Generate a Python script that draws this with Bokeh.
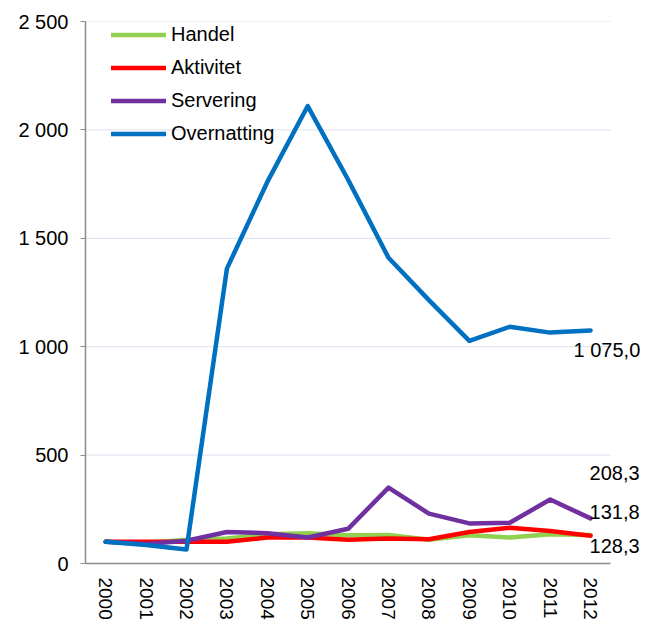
from bokeh.plotting import figure
from bokeh.models import (ColumnDataSource, Range1d, Legend, LegendItem,
                          LabelSet, FixedTicker)
from bokeh.core.properties import value
from bokeh.embed import file_html
from bokeh.resources import INLINE
import math

years = list(range(2000, 2013))
year_labels = [str(y) for y in years]
handel = [100, 95, 110, 115, 135, 140, 130, 132, 110, 130, 120, 135, 131.8]
aktivitet = [100, 100, 100, 100, 120, 120, 110, 115, 112, 145, 165, 150, 128.3]
servering = [100, 90, 105, 145, 140, 120, 160, 350, 230, 185, 188, 295, 208.3]
overnatting = [100, 85, 65, 1360, 1760, 2110, 1770, 1410, 1215, 1027, 1092, 1065, 1075.0]

series_names = ["Handel", "Aktivitet", "Servering", "Overnatting"]
series_values = [handel, aktivitet, servering, overnatting]
colors = ["#92D050", "#FF0000", "#7030A0", "#0070C0"]
y_ticks = [0, 500, 1000, 1500, 2000, 2500]
label_offsets = [23, -10, 45, -20]
label_x_offsets = [-1, -1, -1, -17]

FONT = "Liberation Sans"
FS = "20px"


def fmt_num(v, dec=0):
    s = f"{v:,.{dec}f}"
    return s.replace(",", " ").replace(".", ",")


x_start = years[0] - 0.5
x_end = years[-1] + 0.5

p = figure(width=645, height=622, x_range=Range1d(x_start, x_end + 0.86),
           y_range=Range1d(0, 2500), output_backend="svg", toolbar_location=None,
           min_border_left=85, min_border_right=0, min_border_top=21, min_border_bottom=40)
p.outline_line_color = None
p.background_fill_color = "white"

p.xgrid.grid_line_color = None
p.ygrid.grid_line_color = None

# horizontal grid lines limited to the category area
p.segment(x0=[x_start] * len(y_ticks), x1=[x_end] * len(y_ticks), y0=y_ticks, y1=y_ticks,
          line_color="#D9E2F0", line_width=1)

p.yaxis.ticker = FixedTicker(ticks=y_ticks)
p.yaxis.major_label_overrides = {t: fmt_num(t) for t in y_ticks}
p.yaxis.minor_tick_line_color = None
p.yaxis.major_tick_in = 0
p.yaxis.major_tick_out = 5
p.yaxis.axis_line_color = "#8C8C8C"
p.yaxis.major_tick_line_color = "#8C8C8C"
p.yaxis.axis_line_width = 1.5
p.yaxis.major_label_text_font = FONT
p.yaxis.major_label_text_font_size = FS
p.yaxis.major_label_text_color = "black"
p.yaxis.major_label_standoff = 12

p.xaxis.ticker = FixedTicker(ticks=years)
p.xaxis.major_label_overrides = {y: s for y, s in zip(years, year_labels)}
p.xaxis.bounds = (x_start, x_end)
p.xaxis.major_tick_line_color = None
p.xaxis.minor_tick_line_color = None
p.xaxis.axis_line_color = "#8C8C8C"
p.xaxis.axis_line_width = 1.5
p.xaxis.major_label_orientation = -math.pi / 2
p.xaxis.major_label_text_font = FONT
p.xaxis.major_label_text_font_size = "19px"
p.xaxis.major_label_text_color = "black"
p.xaxis.major_label_standoff = 8

items = []
for name, vals, col in zip(series_names, series_values, colors):
    src = ColumnDataSource(dict(x=years, y=vals))
    r = p.line("x", "y", source=src, line_color=col, line_width=4.5,
               line_join="round", line_cap="round")
    items.append(LegendItem(label=name, renderers=[r]))

legend = Legend(items=items, location=(26, 417), orientation="vertical",
                background_fill_alpha=0, border_line_color=None,
                label_text_font=FONT, label_text_font_size=FS, label_text_color="black",
                glyph_width=55, glyph_height=25, spacing=8, padding=0, margin=0,
                label_standoff=5)
p.add_layout(legend, "center")

lab_src = ColumnDataSource(dict(
    x=[years[-1]] * 4,
    y=[v[-1] for v in series_values],
    text=[fmt_num(v[-1], 1) for v in series_values],
    yo=label_offsets,
    xo=label_x_offsets,
))
labels = LabelSet(x="x", y="y", text="text", source=lab_src, x_offset="xo", y_offset="yo",
                  text_align="left", text_baseline="middle", text_font=value(FONT),
                  text_font_size=value(FS), text_color="black")
p.add_layout(labels)

open("out.html", "w").write(file_html(p, INLINE))
